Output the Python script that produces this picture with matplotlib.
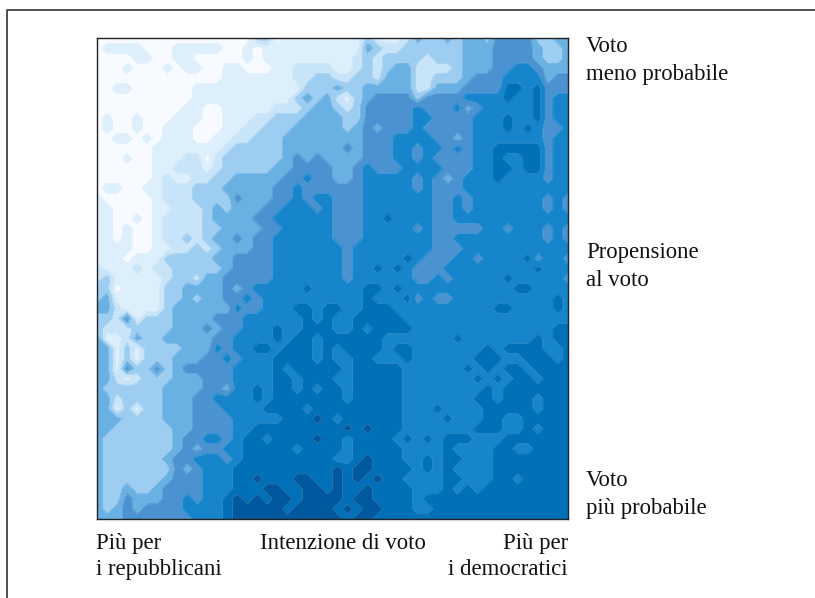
import matplotlib
matplotlib.use('Agg')
import matplotlib.pyplot as plt
from matplotlib.colors import ListedColormap
from matplotlib.lines import Line2D
import numpy as np

# classes 0 (vote less likely) .. 8 (vote more likely), top row first
left_half = [
    "000000 000000 000033 011111",
    "011110 001111 100101 111111",
    "000011 001100 000101 111111",
    "000100 010110 011000 112222",
    "000000 000000 011111 112233",
    "001100 000011 111111 111333",
    "000000 000011 111111 113434",
    "000000 000110 011111 222344",
    "010010 001110 011122 333444",
    "010010 011100 011223 334444",
    "001101 011100 112233 344444",
    "000000 111111 123333 344444",
    "000100 111220 233333 345454",
    "000000 112221 233333 445555",
    "000000 121122 334444 455655",
    "011001 122233 344444 556555",
    "100000 122233 335444 556566",
    "110000 112223 434445 566656",
    "110010 122223 444455 666666",
    "110100 122223 344445 566666",
    "110100 122323 445455 666666",
    "111100 112232 344455 666666",
    "111011 133333 445555 666666",
    "211121 223333 345555 666666",
    "231111 123324 455555 666666",
    "330111 133444 454566 666766",
    "341111 133434 455656 666666",
    "442111 134444 446556 667767",
    "332513 334444 555666 666767",
    "322233 334445 455666 766777",
    "411243 344444 556666 767767",
    "441313 333444 656677 677767",
    "441313 334445 565666 777767",
    "441533 534555 556666 767777",
    "442123 334445 556666 776777",
    "433333 344445 546676 776767",
    "442333 344455 666676 777777",
    "441313 344455 566667 777677",
    "444333 344455 556666 677787",
    "443333 334455 556677 777777",
    "433333 334556 656776 777787",
    "433333 334545 566777 776777",
    "433333 345566 656777 777777",
    "433333 335456 667777 777777",
    "433333 345556 667787 778877",
    "433433 455556 667778 877887",
    "433544 455656 678787 887888",
    "434545 555666 678888 878888",
    "444555 555566 678888 888888",
]
right_half = [
    "111311 124334 344355 553344",
    "111432 233333 344455 554334",
    "112323 333233 344455 554334",
    "112323 442222 344455 665444",
    "223324 442233 345556 666455",
    "433444 442244 455557 767555",
    "213455 553555 566667 667566",
    "323555 556555 645666 667566",
    "433555 556655 556667 667566",
    "434545 556555 556667 676556",
    "444555 666655 456666 666566",
    "454555 665665 656677 777566",
    "444555 665655 556676 677566",
    "445655 566665 556677 677566",
    "445666 665654 566676 666566",
    "555666 665655 566666 666666",
    "555666 666655 656666 666565",
    "555666 666655 656666 666565",
    "555667 666655 666666 666666",
    "555666 665655 555665 666565",
    "555666 666655 666666 666565",
    "656666 666655 566666 666666",
    "656666 676555 665666 675665",
    "656676 765556 666666 667666",
    "656666 665565 666667 666665",
    "666776 766666 666666 776666",
    "666766 675655 666666 666676",
    "766777 666666 666677 666676",
    "667777 766666 666666 666666",
    "667677 776666 666666 666677",
    "777776 666666 766666 667677",
    "677776 776666 666767 777667",
    "667766 676666 667776 677767",
    "767777 766666 676767 767777",
    "667777 766666 667676 776777",
    "767777 766666 666767 777777",
    "767777 766666 667767 776777",
    "777777 766676 666777 776777",
    "677777 766667 666776 677777",
    "787877 766666 667776 676777",
    "767777 676767 776667 777777",
    "767777 766667 666677 667777",
    "667877 766767 766677 777777",
    "878877 776767 666677 777777",
    "878787 766667 766677 677777",
    "877877 776667 676777 777777",
    "878877 776777 777777 777777",
    "787887 776677 777777 777777",
    "878877 777777 777777 777777",
]

class_colors = ['#f7fbff', '#deeffc', '#c8e4f8', '#9dcdf0', '#69b0e3',
                '#4a92d0', '#1785cc', '#0070b8', '#00589f']

W, H = 815, 598
plt.rcParams['font.family'] = ['Liberation Serif', 'DejaVu Serif']

fig = plt.figure(figsize=(W / 100, H / 100), dpi=100)
ax = fig.add_axes([97 / W, 1 - 519 / H, 471 / W, 481 / H])

z = np.array([[int(c) for c in (a + b).replace(' ', '')]
              for a, b in zip(left_half, right_half)], dtype=float)
x = np.linspace(0, 1, z.shape[1])
y = np.linspace(1, 0, z.shape[0])
levels = np.arange(-0.5, 9, 1)
ax.contourf(x, y, z, levels=levels, cmap=ListedColormap(class_colors))
ax.contour(x, y, z, levels=levels, colors='white', linewidths=0.4, alpha=0.3)

ax.set_xlim(0, 1)
ax.set_ylim(0, 1)
ax.set_xticks([])
ax.set_yticks([])
for s in ax.spines.values():
    s.set_linewidth(1.0)
    s.set_color('#222222')


def put(px, py, txt, ha='left'):
    fig.text(px / W, 1 - py / H, txt, ha=ha, va='baseline', fontsize=16.4, color='#111111')


# right hand side
put(586, 52, 'Voto')
put(586, 80, 'meno probabile')
put(586, 258, 'Propensione')
put(586, 286, 'al voto')
put(586, 486, 'Voto')
put(586, 514, 'più probabile')

# below the map
put(96, 549, 'Più per')
put(96, 575, 'i repubblicani')
put(343, 549, 'Intenzione di voto', ha='center')
put(568, 549, 'Più per', ha='right')
put(568, 575, 'i democratici', ha='right')

# outer frame, only top and left
fig.add_artist(Line2D([7 / W, 7 / W, 1], [0, 1 - 10 / H, 1 - 10 / H], color='#333333', lw=1.2))

plt.savefig('out.png', dpi=100)
